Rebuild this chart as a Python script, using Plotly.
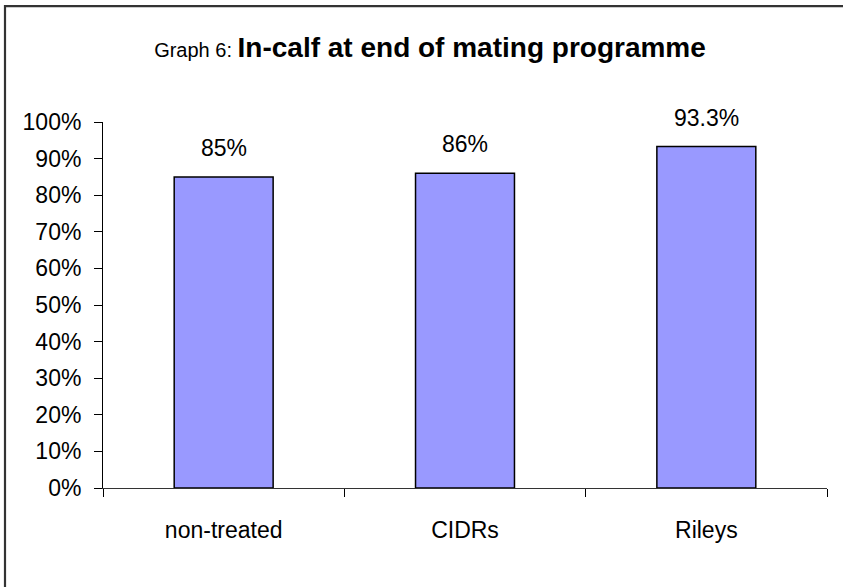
import plotly.graph_objects as go

categories = ["non-treated", "CIDRs", "Rileys"]
values = [0.85, 0.86, 0.933]
value_labels = ["85%", "86%", "93.3%"]
y_ticks = [i / 10 for i in range(11)]
y_tick_labels = [f"{i * 10}%" for i in range(11)]

FONT = "Liberation Sans, Arial, sans-serif"

fig = go.Figure()
fig.add_trace(go.Bar(
    x=categories,
    y=values,
    marker=dict(color="#9999FF", line=dict(color="#000000", width=1.5)),
    hoverinfo="skip",
))

for c, v, t in zip(categories, values, value_labels):
    fig.add_annotation(x=c, y=v, text=t, showarrow=False, yanchor="middle",
                       yshift=29, font=dict(family=FONT, size=23, color="#000000"))

fig.update_layout(
    width=843, height=587,
    margin=dict(l=103, r=16, t=122, b=99),
    paper_bgcolor="white", plot_bgcolor="white",
    bargap=0.59,
    showlegend=False,
    title=dict(
        text="<span style='font-size:20px'>Graph 6: </span><b>In-calf at end of mating programme</b>",
        x=430 / 843, xanchor="center", y=1 - 47 / 587, yanchor="middle",
        font=dict(family=FONT, size=28, color="#000000"),
    ),
    xaxis=dict(
        showline=True, linecolor="#333333", linewidth=1.3,
        ticks="outside", tickson="boundaries", ticklen=8, tickcolor="#000000",
        tickfont=dict(family=FONT, size=23, color="#000000"),
        ticklabelstandoff=21,
        showgrid=False, zeroline=False, fixedrange=True,
    ),
    yaxis=dict(
        range=[0, 1], tickvals=y_ticks, ticktext=y_tick_labels,
        showline=True, linecolor="#000000", linewidth=1,
        ticks="outside", ticklen=8, tickcolor="#000000",
        tickfont=dict(family=FONT, size=23, color="#000000"),
        ticklabelstandoff=8,
        showgrid=False, zeroline=False, fixedrange=True,
    ),
)

fig.add_shape(type="rect", xref="paper", yref="paper",
              x0=(5 - 103) / 724, x1=1.2, y0=-0.5, y1=(488.3 - 6) / 366.3,
              line=dict(color="#333333", width=2.2), fillcolor="rgba(0,0,0,0)",
              layer="below")

fig.write_html("out.html")
